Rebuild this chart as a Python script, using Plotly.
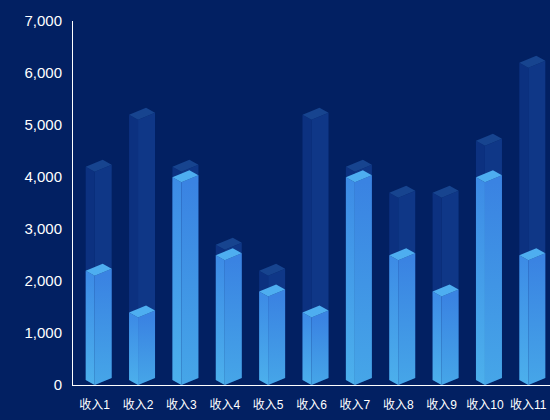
import plotly.graph_objects as go

# ---- data -------------------------------------------------------------
categories = ["收入1", "收入2", "收入3", "收入4", "收入5", "收入6",
              "收入7", "收入8", "收入9", "收入10", "收入11"]
totals = [4100, 5100, 4100, 2600, 2100, 5100, 4100, 3600, 3600, 4600, 6100]
values = [2100, 1300, 3900, 2400, 1700, 1300, 3900, 2400, 1700, 3900, 2400]
y_ticks = [0, 1000, 2000, 3000, 4000, 5000, 6000, 7000]

# ---- layout geometry --------------------------------------------------
W, H = 550, 420
M = dict(l=73, r=0, t=21, b=35)
Y_MAX = 7000
X_RANGE = (-0.5, len(categories) - 0.5)
px_x = (W - M["l"] - M["r"]) / (X_RANGE[1] - X_RANGE[0])   # pixels per category
px_y = (H - M["t"] - M["b"]) / Y_MAX                          # pixels per unit

# cube depth in pixels: left face goes up-left, right face goes up-right
LEFT = (-9, 5)
RIGHT = (17, 7)


def off(x, y, dx_px, up_px):
    return x + dx_px / px_x, y + up_px / px_y


def cube_faces(xc, v):
    lt = off(xc, v, *LEFT)
    lb = off(xc, 0, *LEFT)
    rt = off(xc, v, *RIGHT)
    rb = off(xc, 0, *RIGHT)
    bk = off(xc, v, LEFT[0] + RIGHT[0], LEFT[1] + RIGHT[1])
    left = [(xc, v), lt, lb, (xc, 0), (xc, v)]
    right = [(xc, v), (xc, 0), rb, rt, (xc, v)]
    top = [(xc, v), lt, bk, rt, (xc, v)]
    return left, right, top


def poly(points, fill=None, grad=None, start=None, stop=None):
    xs = [p[0] for p in points]
    ys = [p[1] for p in points]
    kw = dict(x=xs, y=ys, mode="lines", fill="toself",
              line=dict(width=0), hoverinfo="skip", showlegend=False)
    if grad:
        kw["fillgradient"] = dict(type="vertical", colorscale=grad,
                                  start=start, stop=stop)
    else:
        kw["fillcolor"] = fill
    return go.Scatter(**kw)


fig = go.Figure()

# background (total) columns
for i, t in enumerate(totals):
    left, right, top = cube_faces(i, t)
    fig.add_trace(poly(left, fill="#0c3180"))
    fig.add_trace(poly(right, fill="#0f3787"))
    fig.add_trace(poly(top, fill="#17448f"))

# foreground (value) columns
for i, v in enumerate(values):
    left, right, top = cube_faces(i, v)
    fig.add_trace(poly(left, grad=[[0, "#4cb0ec"], [1, "#3d8ce6"]], start=0, stop=v))
    fig.add_trace(poly(right, grad=[[0, "#46a6e8"], [1, "#3a83e2"]], start=0, stop=v))
    fig.add_trace(poly(top, fill="#4eaef0"))

font = dict(family="Liberation Sans, Arial, Noto Sans CJK SC", color="#ffffff")

fig.update_layout(
    width=W, height=H, margin=M,
    paper_bgcolor="#022062", plot_bgcolor="#022062",
    font=font,
    xaxis=dict(range=list(X_RANGE), tickmode="array",
               tickvals=list(range(len(categories))), ticktext=categories,
               showgrid=False, zeroline=False, showline=True,
               linecolor="#ffffff", linewidth=1, ticks="",
               ticklabelstandoff=9,
               tickfont=dict(size=12, color="#ffffff"), fixedrange=True),
    yaxis=dict(range=[0, Y_MAX], tickmode="array", tickvals=y_ticks,
               tickformat=",d", showgrid=False, zeroline=False,
               showline=True, linecolor="#ffffff", linewidth=1, ticks="",
               ticklabelstandoff=7,
               tickfont=dict(size=15, color="#ffffff"), fixedrange=True),
)

fig.write_html("out.html")
